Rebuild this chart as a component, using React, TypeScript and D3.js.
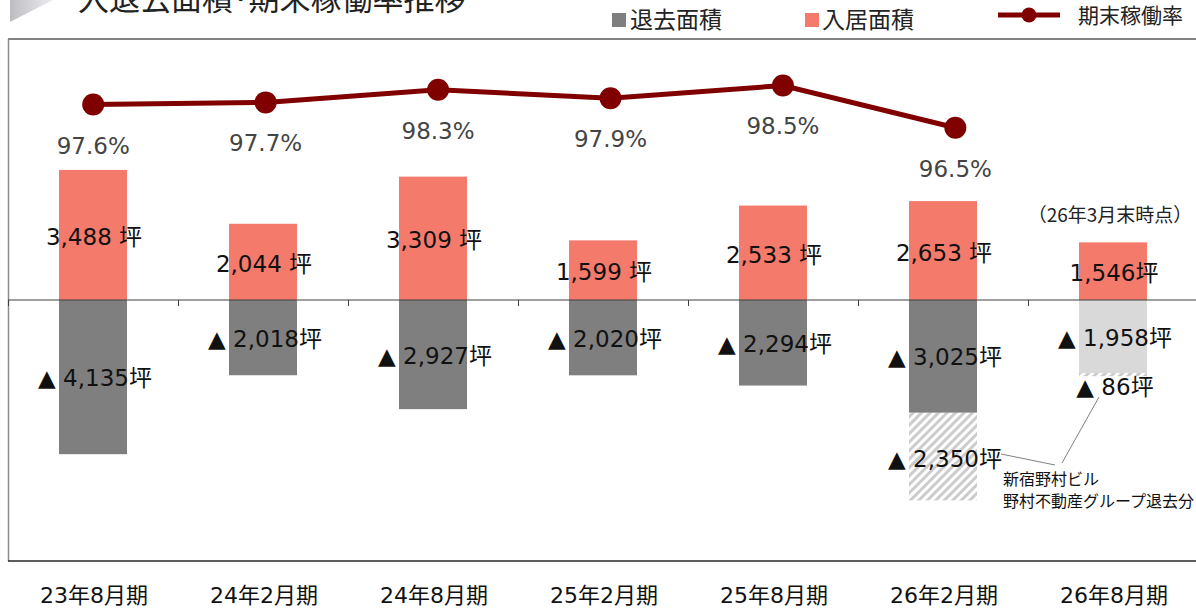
import React from "react";
import * as d3 from "d3";

const categories = ["23年8月期", "24年2月期", "24年8月期", "25年2月期", "25年8月期", "26年2月期", "26年8月期"];
const moveIn = [3488, 2044, 3309, 1599, 2533, 2653, 1546];
const moveOut = [4135, 2018, 2927, 2020, 2294, 3025, 1958];
const moveOutGroup = [0, 0, 0, 0, 0, 2350, 86];
const isForecast = [false, false, false, false, false, false, true];
const occupancy = [97.6, 97.7, 98.3, 97.9, 98.5, 96.5];
const areaDomain = [-7000, 7000];
const rateDomain = [76, 100.7];

const W = 1196;
const H = 608;
const FONT = "'DejaVu Sans', 'Noto Sans CJK JP', sans-serif";
const JP = "'Noto Sans CJK JP', sans-serif";

const C_IN = "#F47A6C";
const C_OUT = "#7F7F7F";
const C_FC = "#D9D9D9";
const C_LINE = "#800000";

export default function App() {
  const left = 8;
  const right = 1198;
  const top = 39;
  const bottom = 561;

  const x = d3.scaleBand<string>().domain(categories).range([left, right]).paddingInner(0.6).paddingOuter(0.3);
  const step = x.step();
  const y = d3.scaleLinear().domain(areaDomain).range([bottom, top]);
  // the rate line sits on its own, slightly wider category axis
  const xl = d3.scaleBand<string>().domain(categories).range([left - 1, left - 1 + 1207]).padding(0);
  const yr = d3.scaleLinear().domain(rateDomain).range([bottom, top]);
  const y0 = y(0);

  const fmt = d3.format(",");
  const lx = (i: number) => (xl(categories[i]) as number) + xl.bandwidth() / 2;
  const line = d3
    .line<number>()
    .x((_, i) => lx(i))
    .y((d) => yr(d));

  const boundaries = d3.range(categories.length + 1).map((i) => left + i * step);

  return (
    <svg width={W} height={H} style={{ position: "absolute", left: 0, top: 0, background: "#fff" }}>
      <defs>
        <linearGradient id="tri" x1="0" y1="0" x2="1" y2="0">
          <stop offset="0%" stopColor="#bdbdc2" />
          <stop offset="100%" stopColor="#ececf0" />
        </linearGradient>
        <pattern id="hatch" patternUnits="userSpaceOnUse" width="6" height="6" patternTransform="rotate(45)">
          <rect width="6" height="6" fill="#ffffff" />
          <rect width="3" height="6" fill="#cccccc" />
        </pattern>
      </defs>

      {/* title */}
      <path d="M10,0 L53,0 L10,22 Z" fill="url(#tri)" />
      <text x={78} y={10} fontFamily={JP} fontSize={31} fill="#222">入退去面積･期末稼働率推移</text>

      {/* legend */}
      <rect x={612} y={13} width={14} height={14} fill={C_OUT} />
      <text x={630} y={28} fontFamily={JP} fontSize={23} fill="#222">退去面積</text>
      <rect x={805} y={13} width={14} height={14} fill={C_IN} />
      <text x={822} y={28} fontFamily={JP} fontSize={23} fill="#222">入居面積</text>
      <line x1={998} x2={1060} y1={15} y2={15} stroke={C_LINE} strokeWidth={5} />
      <circle cx={1029} cy={15} r={7.5} fill={C_LINE} />
      <text x={1078} y={23} fontFamily={JP} fontSize={21} fill="#222">期末稼働率</text>

      {/* frame */}
      <line x1={left} x2={W} y1={top} y2={top} stroke="#595959" strokeWidth={1.5} />
      <line x1={left + 0.5} x2={left + 0.5} y1={top} y2={bottom} stroke="#8c8c8c" strokeWidth={1.5} />
      <line x1={left} x2={W} y1={bottom} y2={bottom} stroke="#262626" strokeWidth={1.5} />

      {/* bars */}
      {categories.map((c, i) => {
        const bx = x(c) as number;
        const bw = x.bandwidth();
        const outEnd = y(-moveOut[i]);
        const grpEnd = y(-(moveOut[i] + moveOutGroup[i]));
        return (
          <g key={c}>
            <rect x={bx} y={y(moveIn[i])} width={bw} height={y0 - y(moveIn[i])} fill={C_IN} />
            <rect x={bx} y={y0} width={bw} height={outEnd - y0} fill={isForecast[i] ? C_FC : C_OUT} />
            {moveOutGroup[i] > 0 && (
              <rect x={bx} y={outEnd} width={bw} height={grpEnd - outEnd} fill="url(#hatch)" />
            )}
          </g>
        );
      })}

      {/* zero axis */}
      <line x1={left} x2={W} y1={y0} y2={y0} stroke="#404040" strokeWidth={1.2} />
      {boundaries.map((bx, i) => (
        <line key={i} x1={bx + 0.5} x2={bx + 0.5} y1={y0} y2={y0 + 6} stroke="#404040" strokeWidth={1} />
      ))}

      {/* bar labels */}
      {categories.map((c, i) => {
        const cx = (x(c) as number) + x.bandwidth() / 2;
        const inMid = (y(moveIn[i]) + y0) / 2;
        const outMid = (y0 + y(-moveOut[i])) / 2;
        const inText = isForecast[i] ? `${fmt(moveIn[i])}坪` : `${fmt(moveIn[i])} 坪`;
        return (
          <g key={c} fontFamily={FONT} fontSize={23} fill="#111" textAnchor="middle">
            <text x={cx + 1} y={inMid + 2} dominantBaseline="central">{inText}</text>
            <text x={cx + 2} y={outMid + 1} dominantBaseline="central">{`▲ ${fmt(moveOut[i])}坪`}</text>
            {moveOutGroup[i] > 0 && (
              <text
                x={cx + 2}
                y={
                  moveOutGroup[i] > 500
                    ? (y(-moveOut[i]) + y(-(moveOut[i] + moveOutGroup[i]))) / 2 + 2
                    : y(-(moveOut[i] + moveOutGroup[i])) + 11
                }
                dominantBaseline="central"
              >
                {`▲ ${fmt(moveOutGroup[i])}坪`}
              </text>
            )}
          </g>
        );
      })}

      <text x={1110} y={222} fontFamily={JP} fontSize={19} fill="#222" textAnchor="middle">（26年3月末時点）</text>

      {/* annotation */}
      <line x1={1001} y1={454} x2={1055} y2={465} stroke="#808080" strokeWidth={1} />
      <line x1={1062} y1={463} x2={1099} y2={397} stroke="#808080" strokeWidth={1} />
      <text x={1003} y={485} fontFamily={JP} fontSize={16} fill="#111">新宿野村ビル</text>
      <text x={1003} y={507} fontFamily={JP} fontSize={16} fill="#111">野村不動産グループ退去分</text>

      {/* occupancy line */}
      <path d={line(occupancy) || ""} fill="none" stroke={C_LINE} strokeWidth={5} />
      {occupancy.map((v, i) => (
        <g key={i}>
          <circle cx={lx(i)} cy={yr(v)} r={11} fill={C_LINE} />
          <text
            x={lx(i)}
            y={yr(v) + 41}
            fontFamily={FONT}
            fontSize={23}
            fill="#444"
            textAnchor="middle"
            dominantBaseline="central"
          >
            {`${v.toFixed(1)}%`}
          </text>
        </g>
      ))}

      {/* x labels */}
      {categories.map((c) => (
        <text
          key={c}
          x={(x(c) as number) + x.bandwidth() / 2 + 1}
          y={595}
          fontFamily={FONT}
          fontSize={22}
          fill="#111"
          textAnchor="middle"
          dominantBaseline="central"
        >
          {c}
        </text>
      ))}
    </svg>
  );
}
